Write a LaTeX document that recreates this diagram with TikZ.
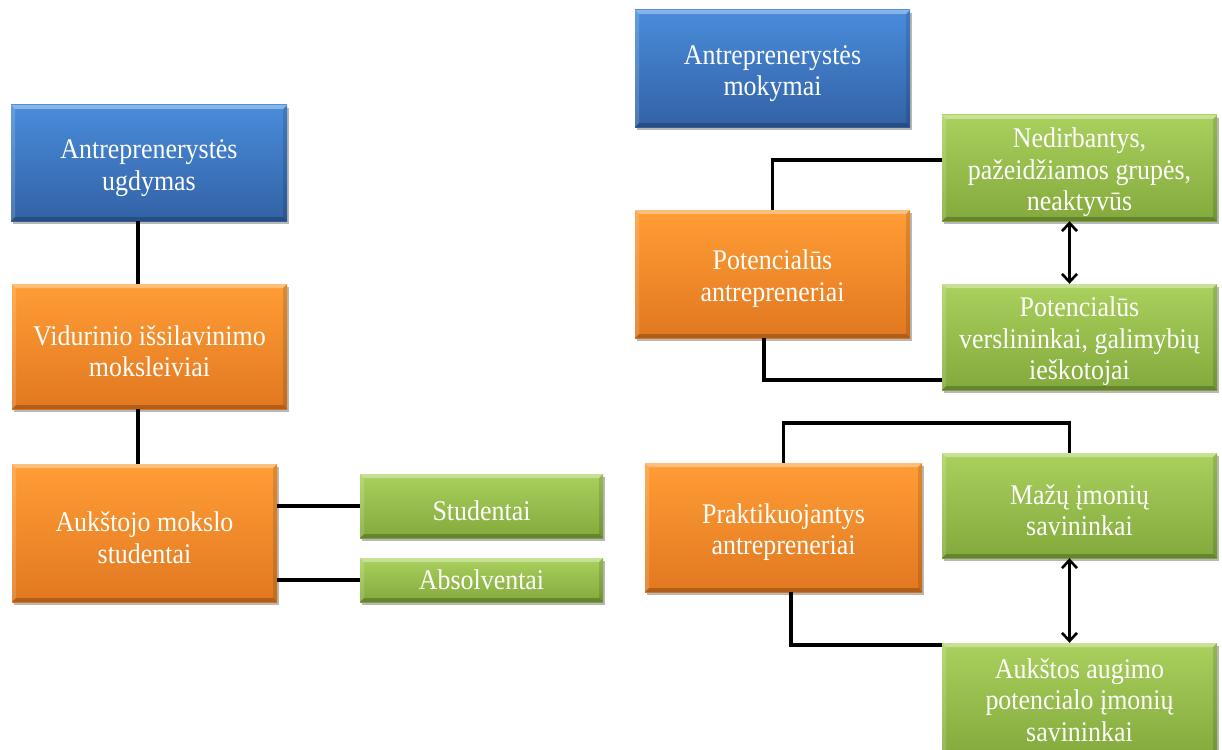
\documentclass[tikz,border=0pt]{standalone}
\usepackage{fontspec}
\setmainfont{Liberation Serif}[FakeStretch=0.91]
\usetikzlibrary{arrows.meta,shadows}

\definecolor{bluetop}{HTML}{4A8CDB}
\definecolor{bluebot}{HTML}{3262A5}
\definecolor{orangetop}{HTML}{FF9D35}
\definecolor{orangebot}{HTML}{E17820}
\definecolor{greentop}{HTML}{AAD15E}
\definecolor{greenbot}{HTML}{82A93B}

% taller first line so the text block sits a little lower in its box
\newcommand{\firststrut}{\rule{0pt}{29pt}}

\tikzset{
  card/.style={rectangle, draw=none, text=white, align=center, inner sep=0pt,
    font=\fontsize{28.5}{31.5}\selectfont,
    drop shadow={shadow xshift=2pt, shadow yshift=-3pt, opacity=0.28, fill=black},
    path picture={
      \fill[white,opacity=0.35]
        (path picture bounding box.north west) -- (path picture bounding box.north east)
        -- ([xshift=-4pt,yshift=-4pt]path picture bounding box.north east)
        -- ([xshift=4pt,yshift=-4pt]path picture bounding box.north west) -- cycle;
      \fill[white,opacity=0.15]
        (path picture bounding box.north west) -- (path picture bounding box.south west)
        -- ([xshift=4pt,yshift=4pt]path picture bounding box.south west)
        -- ([xshift=4pt,yshift=-4pt]path picture bounding box.north west) -- cycle;
      \fill[black,opacity=0.12]
        (path picture bounding box.north east) -- (path picture bounding box.south east)
        -- ([xshift=-4pt,yshift=4pt]path picture bounding box.south east)
        -- ([xshift=-4pt,yshift=-4pt]path picture bounding box.north east) -- cycle;
      \fill[black,opacity=0.22]
        (path picture bounding box.south west) -- (path picture bounding box.south east)
        -- ([xshift=-4pt,yshift=4pt]path picture bounding box.south east)
        -- ([xshift=4pt,yshift=4pt]path picture bounding box.south west) -- cycle;
    }},
  bluecard/.style={card, top color=bluetop, bottom color=bluebot},
  orangecard/.style={card, top color=orangetop, bottom color=orangebot},
  greencard/.style={card, top color=greentop, bottom color=greenbot},
  link/.style={line width=3.6pt, black},
  twoway/.style={line width=2.6pt, black,
    {Straight Barb[length=8pt,width=15pt]}-{Straight Barb[length=8pt,width=15pt]}},
}

\begin{document}
\begin{tikzpicture}[x=1pt, y=-1pt]
\useasboundingbox (0,0) rectangle (1222,749);
\clip (0,0) rectangle (1222,749);
\fill[white] (0,0) rectangle (1222,749);

% left branch: education path
\node[bluecard, minimum width=276pt, minimum height=116pt] (ugd) at (149,163)
  {\firststrut Antreprenerystės\\ugdymas};
\node[orangecard, minimum width=275pt, minimum height=125pt] (vid) at (149.5,346.5)
  {\firststrut Vidurinio išsilavinimo\\moksleiviai};
\node[orangecard, minimum width=265pt, minimum height=138pt] (auk) at (144.5,533)
  {\firststrut Aukštojo mokslo\\studentai};
\node[greencard, minimum width=243pt, minimum height=64pt] (stud) at (481.5,506)
  {\firststrut Studentai};
\node[greencard, minimum width=243pt, minimum height=44pt] (abs) at (481.5,580)
  {Absolventai};

% right branch: training groups
\node[bluecard, minimum width=275pt, minimum height=117pt] (mok) at (772.5,68.5)
  {\firststrut Antreprenerystės\\mokymai};
\node[orangecard, minimum width=275pt, minimum height=128pt] (pot) at (772.5,274)
  {\firststrut Potencialūs\\antrepreneriai};
\node[greencard, minimum width=275pt, minimum height=106pt] (ned) at (1079.5,168)
  {\firststrut Nedirbantys,\\pažeidžiamos grupės,\\neaktyvūs};
\node[greencard, minimum width=275pt, minimum height=106pt] (ver) at (1079.5,337)
  {\firststrut Potencialūs\\verslininkai, galimybių\\ieškotojai};
\node[orangecard, minimum width=277pt, minimum height=129pt] (prak) at (783.5,527.5)
  {\firststrut Praktikuojantys\\antrepreneriai};
\node[greencard, minimum width=275pt, minimum height=105pt] (maz) at (1079.5,505.5)
  {\firststrut Mažų įmonių\\savininkai};
\node[greencard, minimum width=275pt, minimum height=114pt] (aug) at (1079.5,700)
  {Aukštos augimo\\potencialo įmonių\\savininkai};

% connectors
\coordinate (lx) at (138,0);
\draw[link] (ugd.south -| lx) -- (vid.north -| lx);
\draw[link] (vid.south -| lx) -- (auk.north -| lx);
\draw[link] (stud.west -| auk.east) -- (stud.west);
\draw[link] (abs.west -| auk.east) -- (abs.west);

\draw[link] (pot.north) |- ([yshift=8pt]ned.west);
\draw[link] ([xshift=-8.5pt]pot.south) |- ([yshift=-43pt]ver.west);
\draw[twoway] ([xshift=-10pt]ned.south) -- ([xshift=-10pt]ver.north);

\draw[link] (prak.north) -- ++(0,-40) -| ([xshift=-10pt]maz.north);
\draw[link] ([xshift=7.5pt]prak.south) |- ([yshift=-2pt]aug.north west);
\draw[twoway] ([xshift=-10pt]maz.south) -- ([xshift=-10pt]aug.north);
\end{tikzpicture}
\end{document}
